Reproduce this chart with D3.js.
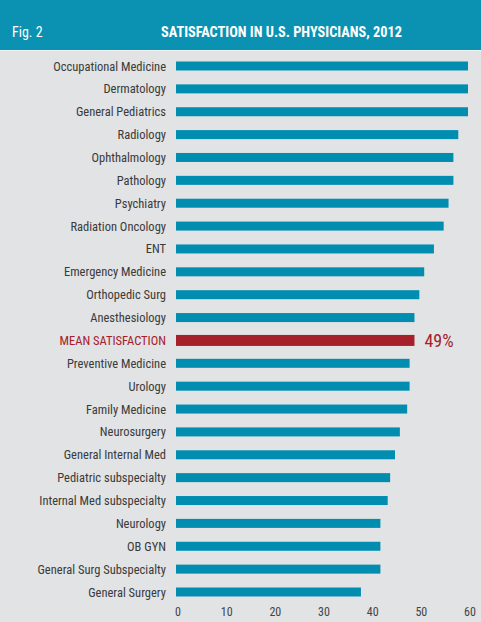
<!DOCTYPE html>
<html>
<head>
<meta charset="utf-8">
<script src="https://cdn.jsdelivr.net/npm/d3@7"></script>
<style>
html,body{margin:0;padding:0;background:#e1e3e4;}
svg{display:block;}
</style>
</head>
<body>
<svg id="chart" width="481" height="622"></svg>
<script>
const categories = ["Occupational Medicine","Dermatology","General Pediatrics","Radiology","Ophthalmology","Pathology","Psychiatry","Radiation Oncology","ENT","Emergency Medicine","Orthopedic Surg","Anesthesiology","MEAN SATISFACTION","Preventive Medicine","Urology","Family Medicine","Neurosurgery","General Internal Med","Pediatric subspecialty","Internal Med subspecialty","Neurology","OB GYN","General Surg Subspecialty","General Surgery"];
const values = [60,60,60,58,57,57,56,55,53,51,50,49,49,48,48,47.5,46,45,44,43.5,42,42,42,38];
const meanCategory = "MEAN SATISFACTION";
const meanLabel = "49%";
const tickValues = [0,10,20,30,40,50,60];
const figLabel = "Fig. 2";
const title = "SATISFACTION IN U.S. PHYSICIANS, 2012";

const font = "'Liberation Sans Narrow','Roboto Condensed','Arial Narrow',sans-serif";
const svg = d3.select("#chart");
const W = 481, H = 622;

svg.append("rect").attr("x",0).attr("y",0).attr("width",W).attr("height",H).attr("fill","#e1e3e4");
svg.append("rect").attr("x",0).attr("y",0).attr("width",W).attr("height",50).attr("fill","#0b91b2");
svg.append("rect").attr("x",0).attr("y",50).attr("width",W).attr("height",1).attr("fill","#eef3f4");

svg.append("text").attr("x",12).attr("y",37).text(figLabel)
  .attr("fill","#ffffff").attr("font-family",font).attr("font-size",14);
svg.append("text").attr("x",161).attr("y",37).text(title)
  .attr("fill","#ffffff").attr("font-family",font).attr("font-size",14.3).attr("font-weight","bold");

const x = d3.scaleLinear().domain([0,60]).range([176,468]);
const y = d3.scalePoint().domain(categories).range([66,592]);

const data = categories.map((c,i)=>({c, v: values[i]}));

svg.append("g").selectAll("rect").data(data).join("rect")
  .attr("x", x(0))
  .attr("y", d => y(d.c) - (d.c===meanCategory ? 5.5 : 4.5))
  .attr("width", d => x(d.v) - x(0))
  .attr("height", d => d.c===meanCategory ? 11 : 9)
  .attr("fill", d => d.c===meanCategory ? "#a5202a" : "#008db0");

svg.append("g").selectAll("text").data(data).join("text")
  .attr("x", 166)
  .attr("y", d => y(d.c))
  .attr("dy","0.36em")
  .attr("text-anchor","end")
  .attr("font-family",font).attr("font-size",12.5)
  .attr("fill", d => d.c===meanCategory ? "#a5202a" : "#3a3a3a")
  .text(d => d.c);

const meanVal = values[categories.indexOf(meanCategory)];
svg.append("text").attr("x", x(meanVal)+10).attr("y", y(meanCategory)).attr("dy","0.36em")
  .attr("font-family",font).attr("font-size",18).attr("font-weight",400).attr("fill","#a5202a").text(meanLabel);

const axis = d3.axisBottom(x).tickValues(tickValues).tickSize(0).tickPadding(0);
const ag = svg.append("g").attr("transform","translate(1.5,607)").call(axis);
ag.select(".domain").remove();
ag.selectAll("text").attr("font-family",font).attr("font-size",12).attr("fill","#444").attr("dy","0.71em");
</script>
</body>
</html>
